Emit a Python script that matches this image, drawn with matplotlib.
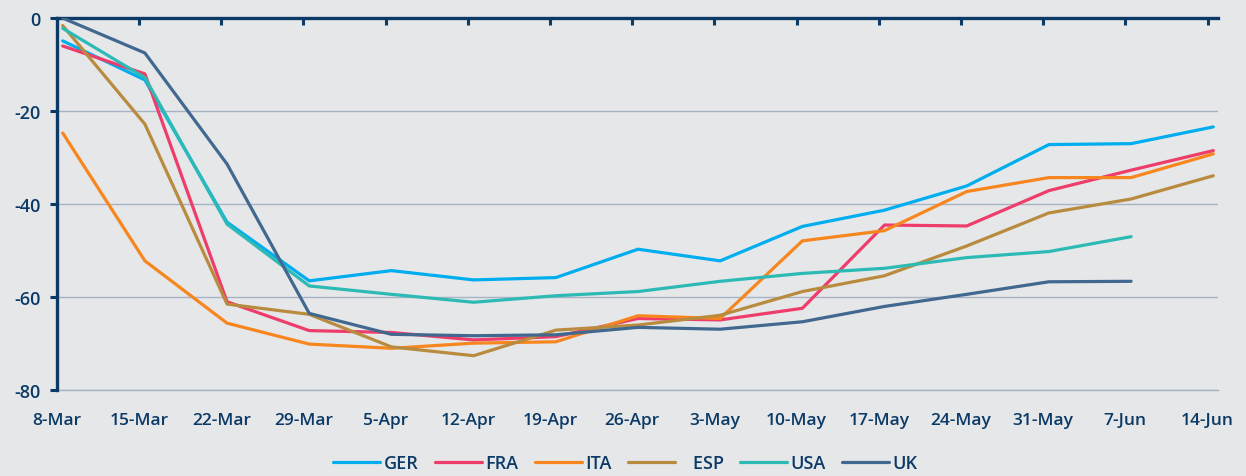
import matplotlib.pyplot as plt
import numpy as np

weeks = ['8-Mar', '15-Mar', '22-Mar', '29-Mar', '5-Apr', '12-Apr', '19-Apr', '26-Apr',
         '3-May', '10-May', '17-May', '24-May', '31-May', '7-Jun', '14-Jun']

ger = [-4.9, -13.3, -43.9, -56.5, -54.3, -56.3, -55.8, -49.7, -52.2, -44.8, -41.3, -36.1, -27.2, -27.0, -23.4]
fra = [-6.0, -12.0, -61.0, -67.2, -67.6, -69.2, -68.5, -64.6, -64.9, -62.4, -44.5, -44.7, -37.1, -32.7, -28.5]
ita = [-24.7, -52.2, -65.6, -70.1, -71.0, -69.9, -69.6, -64.0, -64.6, -47.9, -45.7, -37.3, -34.3, -34.3, -29.2]
esp = [-1.6, -22.8, -61.5, -63.7, -70.7, -72.6, -67.1, -66.0, -63.9, -58.8, -55.4, -49.0, -41.9, -38.9, -33.9]
usa = [-2.2, -12.8, -44.3, -57.6, -59.4, -61.1, -59.7, -58.8, -56.6, -54.9, -53.8, -51.5, -50.2, -47.0, np.nan]
uk = [0.0, -7.5, -31.4, -63.5, -68.0, -68.3, -68.1, -66.5, -66.9, -65.3, -62.0, -59.4, -56.7, -56.6, np.nan]

series = [('GER', ger, '#00AEEF'), ('FRA', fra, '#EE3D6A'), ('ITA', ita, '#F7861E'),
          ('   ESP', esp, '#B98B3E'), ('USA', usa, '#2DBAB5'), ('UK', uk, '#41698F')]

navy = '#0B3A66'
bg = '#E6E7E9'
plt.rcParams['font.family'] = ['Open Sans', 'DejaVu Sans']
plt.rcParams['axes.unicode_minus'] = False

fig = plt.figure(figsize=(12.46, 4.77), dpi=100, facecolor=bg)
ax = fig.add_axes([0.0457, 0.180, 0.932, 0.780])
ax.set_facecolor(bg)

x = np.arange(len(weeks))
for name, vals, col in series:
    ax.plot(x, vals, color=col, lw=2.3, label=name, solid_capstyle='round', zorder=3)

ax.set_xlim(-0.061, 14.06)
ax.set_ylim(-80, 0)
ax.set_yticks([0, -20, -40, -60, -80])
ax.yaxis.grid(True, color='#A7B2C4', lw=1.0)
ax.axhline(-80, color='#A7B2C4', lw=1.0, clip_on=False, zorder=1)
ax.set_axisbelow(True)

ax.set_xticks(x - 0.07)
ax.set_xticklabels(weeks)
ax.tick_params(axis='x', bottom=False, top=True, direction='in', length=5, width=2.2,
               color=navy, labelbottom=True, pad=16, labelsize=12.5, labelcolor=navy)
ax.tick_params(axis='y', direction='out', length=5, width=2.2, color=navy,
               labelsize=13, labelcolor=navy, pad=7)
for lbl in ax.get_xticklabels() + ax.get_yticklabels():
    lbl.set_fontweight('semibold')

for s in ['right', 'bottom']:
    ax.spines[s].set_visible(False)
for s in ['left', 'top']:
    ax.spines[s].set_color(navy)
    ax.spines[s].set_linewidth(2.4)

leg = fig.legend(loc='center', bbox_to_anchor=(0.502, 0.027), ncol=6, frameon=False,
                 handlelength=2.6, handletextpad=0.2, columnspacing=0.9,
                 prop={'size': 13, 'weight': 'semibold'})
for t in leg.get_texts():
    t.set_color(navy)

fig.savefig('out.png', dpi=100, facecolor=bg)
